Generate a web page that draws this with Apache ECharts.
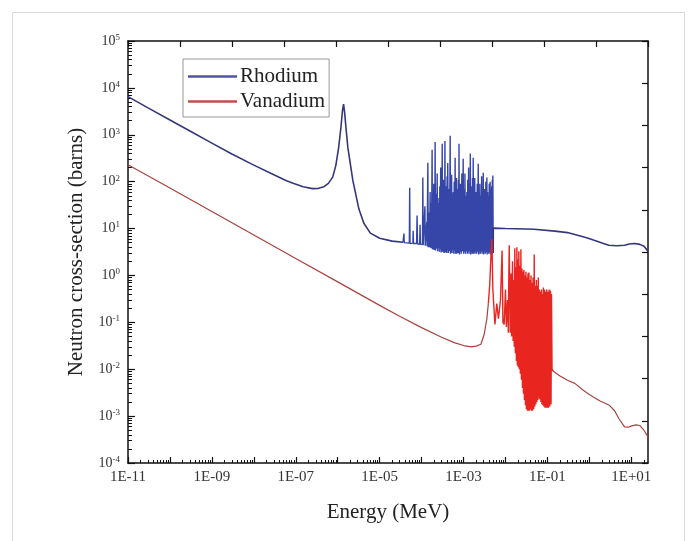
<!DOCTYPE html>
<html>
<head>
<meta charset="utf-8">
<script src="https://cdn.jsdelivr.net/npm/echarts@6/dist/echarts.min.js"></script>
<style>
html, body { margin: 0; padding: 0; background: #fff; }
#chart { width: 697px; height: 541px; }
</style>
</head>
<body>
<div id="chart"></div>
<script>
// tick labels
var xLabelValues = [1e-11, 1e-9, 1e-7, 1e-5, 1e-3, 1e-1, 1e1];
var xTickValues = [1e-11, 1e-10, 1e-9, 1e-8, 1e-7, 1e-6, 1e-5, 1e-4, 1e-3, 1e-2, 1e-1, 1, 1e1];
var yTickValues = [1e-4, 1e-3, 1e-2, 1e-1, 1, 1e1, 1e2, 1e3, 1e4, 1e5];

// Rhodium [energy MeV, barns]
var rhodiumLow = [
    [1e-11, 6500], [3e-11, 3750], [1e-10, 2070], [3e-10, 1200], [1e-9, 665], [3e-9, 390],
    [1e-8, 225], [3e-8, 140], [6e-8, 105], [9e-8, 91], [1.5e-7, 78], [2.5e-7, 71],
    [3.5e-7, 72], [4.7e-7, 78], [6e-7, 92], [7.6e-7, 125], [9e-7, 220], [1.05e-6, 525],
    [1.2e-6, 1500], [1.3e-6, 3300], [1.38e-6, 4500], [1.46e-6, 3000], [1.6e-6, 1200],
    [1.75e-6, 525], [2.3e-6, 105], [3.2e-6, 26], [4.2e-6, 13], [6e-6, 8], [1e-5, 6.2],
    [2e-5, 5.4], [3.6e-5, 5.1]
];
var rhodiumRes = [
    [3.6e-5, 5.1],
    [3.75e-5, 5.0], [3.8e-5, 7.8], [3.85e-5, 5.0],
    [5.1e-5, 4.9], [5.2e-5, 74], [5.3e-5, 4.8],
    [6.2e-5, 4.9], [6.3e-5, 9], [6.4e-5, 4.8],
    [7.6e-5, 4.8], [7.8e-5, 19], [8.0e-5, 4.7],
    [9.0e-5, 4.7], [9.2e-5, 12], [9.4e-5, 4.6],
    [1.05e-4, 4.6], [1.07e-4, 123], [1.09e-4, 4.4],
    [1.18e-4, 4.5], [1.2e-4, 30], [1.22e-4, 4.3],
    [1.3e-4, 4.4], [1.33e-4, 14], [1.35e-4, 4.2],
    [1.38e-4, 4.2], [1.41e-4, 253], [1.44e-4, 4.0],
    [1.5e-4, 4.2], [1.53e-4, 22], [1.55e-4, 4.0],
    [1.57e-4, 4.3], [1.6e-4, 60], [1.63e-4, 3.9],
    [1.67e-4, 4.1], [1.7e-4, 35], [1.72e-4, 3.8],
    [1.74e-4, 4.1], [1.78e-4, 478], [1.82e-4, 3.6],
    [1.86e-4, 4.0], [1.89e-4, 25], [1.9e-4, 3.7],
    [1.92e-4, 4.0], [1.95e-4, 90], [1.99e-4, 3.5],
    [2.03e-4, 30], [2.06e-4, 3.8],
    [2.10e-4, 705], [2.15e-4, 3.4],
    [2.22e-4, 55], [2.28e-4, 3.7],
    [2.35e-4, 150], [2.42e-4, 3.3],
    [2.48e-4, 35], [2.54e-4, 3.9],
    [2.60e-4, 45], [2.66e-4, 3.2],
    [2.72e-4, 80], [2.78e-4, 3.6],
    [2.85e-4, 200], [2.92e-4, 3.1],
    [2.99e-4, 40], [3.04e-4, 3.5],
    [3.10e-4, 645], [3.16e-4, 3.2],
    [3.22e-4, 70], [3.28e-4, 3.6],
    [3.35e-4, 110], [3.41e-4, 3.0],
    [3.47e-4, 50], [3.53e-4, 3.4],
    [3.60e-4, 740], [3.68e-4, 3.1],
    [3.75e-4, 60], [3.82e-4, 3.5],
    [3.90e-4, 80], [3.97e-4, 3.0],
    [4.05e-4, 130], [4.12e-4, 3.4],
    [4.20e-4, 250], [4.35e-4, 3.0],
    [4.45e-4, 70], [4.62e-4, 3.3],
    [4.80e-4, 950], [4.90e-4, 2.9],
    [5.0e-4, 90], [5.1e-4, 3.3],
    [5.2e-4, 140], [5.33e-4, 3.0],
    [5.45e-4, 55], [5.57e-4, 3.5],
    [5.7e-4, 60], [5.85e-4, 2.9],
    [6.0e-4, 100], [6.15e-4, 3.4],
    [6.3e-4, 324], [6.42e-4, 2.9],
    [6.55e-4, 80], [6.68e-4, 3.3],
    [6.8e-4, 120], [6.92e-4, 2.9],
    [7.05e-4, 70], [7.18e-4, 3.4],
    [7.3e-4, 40], [7.42e-4, 3.0],
    [7.55e-4, 110], [7.67e-4, 3.3],
    [7.8e-4, 645], [7.97e-4, 2.8],
    [8.15e-4, 60], [8.32e-4, 3.2],
    [8.5e-4, 90], [8.8e-4, 2.9],
    [9.1e-4, 150], [9.45e-4, 3.3],
    [9.8e-4, 309], [1.005e-3, 2.9],
    [1.03e-3, 70], [1.055e-3, 3.2],
    [1.08e-3, 150], [1.11e-3, 2.9],
    [1.14e-3, 50], [1.17e-3, 3.3],
    [1.2e-3, 60], [1.23e-3, 2.9],
    [1.26e-3, 110], [1.29e-3, 3.2],
    [1.32e-3, 200], [1.35e-3, 2.9],
    [1.38e-3, 90], [1.415e-3, 3.3],
    [1.45e-3, 398], [1.48e-3, 2.8],
    [1.51e-3, 60], [1.545e-3, 3.2],
    [1.58e-3, 80], [1.61e-3, 2.9],
    [1.64e-3, 120], [1.67e-3, 3.3],
    [1.7e-3, 324], [1.735e-3, 2.9],
    [1.77e-3, 70], [1.81e-3, 3.2],
    [1.85e-3, 120], [1.885e-3, 2.9],
    [1.92e-3, 50], [1.96e-3, 3.3],
    [2.0e-3, 60], [2.06e-3, 2.9],
    [2.12e-3, 90], [2.18e-3, 3.2],
    [2.24e-3, 240], [2.3e-3, 2.8],
    [2.35e-3, 60], [2.4e-3, 3.2],
    [2.45e-3, 90], [2.51e-3, 2.9],
    [2.57e-3, 50], [2.63e-3, 3.3],
    [2.7e-3, 130], [2.76e-3, 2.9],
    [2.82e-3, 70], [2.88e-3, 3.2],
    [2.95e-3, 155], [3.01e-3, 2.8],
    [3.07e-3, 60], [3.13e-3, 3.2],
    [3.2e-3, 70], [3.3e-3, 2.9],
    [3.4e-3, 100], [3.5e-3, 3.1],
    [3.6e-3, 123], [3.67e-3, 2.8],
    [3.75e-3, 60], [3.82e-3, 3.2],
    [3.9e-3, 50], [4.0e-3, 2.9],
    [4.1e-3, 90], [4.2e-3, 3.1],
    [4.3e-3, 100], [4.4e-3, 2.8],
    [4.5e-3, 70], [4.6e-3, 3.2],
    [4.7e-3, 80], [4.78e-3, 2.9],
    [4.85e-3, 110], [4.92e-3, 3.0],
    [5.0e-3, 135], [5.1e-3, 3.0]
];
var rhodiumHigh = [
    [5.1e-3, 3.0], [5.12e-3, 10.2], [1e-2, 10.0], [3e-2, 9.8], [4.8e-2, 9.7], [5.0e-2, 9.2],
    [0.15, 8.8], [0.3, 8.2], [0.55, 7.1], [0.9, 6.3], [1.3, 5.6], [2.0, 4.9], [2.9, 4.4],
    [4.5, 4.3], [6.9, 4.4], [9, 4.7], [12, 4.8], [16, 4.6], [20, 4.2], [25, 3.3]
];

// Vanadium [energy MeV, barns]
var vanadiumLow = [
    [1e-11, 230], [1e-10, 73], [1e-9, 23], [1e-8, 7.3], [1e-7, 2.3], [1e-6, 0.73],
    [1e-5, 0.23], [3e-5, 0.135], [1e-4, 0.077], [3e-4, 0.048], [6e-4, 0.037], [1e-3, 0.032],
    [1.5e-3, 0.030], [2e-3, 0.031], [2.6e-3, 0.034], [3.1e-3, 0.055], [3.6e-3, 0.12], [3.9e-3, 0.25]
];
var vanadiumRes = [
    [3.9e-3, 0.25], [4.2e-3, 0.6], [4.5e-3, 2.5], [4.75e-3, 6.0], [5.0e-3, 0.5], [5.6e-3, 0.09],
    [6.2e-3, 0.25], [6.8e-3, 0.12], [7.6e-3, 0.3], [8.3e-3, 3.4], [8.7e-3, 0.1], [9.3e-3, 0.09],
    [1.0e-2, 0.5], [1.05e-2, 0.08], [1.12e-2, 0.3], [1.17e-2, 0.06], [1.2e-2, 0.9], [1.23e-2, 4.4],
    [1.3e-2, 0.06], [1.36e-2, 1.1], [1.4e-2, 0.05], [1.47e-2, 2.0], [1.52e-2, 0.04], [1.57e-2, 0.8],
    [1.62e-2, 0.03], [1.67e-2, 3.8], [1.72e-2, 0.022], [1.77e-2, 1.5], [1.82e-2, 0.015], [1.87e-2, 4.0],
    [1.92e-2, 0.012], [1.97e-2, 2.2], [2.02e-2, 0.011], [2.08e-2, 3.3], [2.14e-2, 0.01], [2.2e-2, 1.6],
    [2.26e-2, 0.008], [2.33e-2, 3.6], [2.4e-2, 0.006], [2.47e-2, 1.4], [2.54e-2, 0.004], [2.61e-2, 1.2],
    [2.68e-2, 0.003], [2.75e-2, 1.3], [2.83e-2, 0.0022], [2.91e-2, 1.0], [2.99e-2, 0.0017], [3.07e-2, 1.2],
    [3.16e-2, 0.0014], [3.25e-2, 0.9], [3.34e-2, 0.0013], [3.43e-2, 1.1], [3.53e-2, 0.0013], [3.63e-2, 1.15],
    [3.73e-2, 0.0013], [3.84e-2, 0.8], [3.95e-2, 0.0014], [4.06e-2, 1.0], [4.18e-2, 0.0013], [4.3e-2, 0.7],
    [4.42e-2, 0.0013], [4.55e-2, 0.9], [4.7e-2, 0.0014], [4.85e-2, 2.8], [5.0e-2, 0.0016], [5.15e-2, 0.6],
    [5.3e-2, 0.0018], [5.45e-2, 0.8], [5.6e-2, 0.002], [5.75e-2, 0.6], [5.9e-2, 0.0022], [6.05e-2, 0.9],
    [6.2e-2, 0.0024], [6.4e-2, 0.5], [6.6e-2, 0.0023], [6.8e-2, 0.45], [7.0e-2, 0.002], [7.2e-2, 0.5],
    [7.4e-2, 0.0018], [7.6e-2, 0.4], [7.8e-2, 0.0017], [8.0e-2, 0.55], [8.25e-2, 0.0016], [8.5e-2, 0.5],
    [8.75e-2, 0.0015], [9.0e-2, 0.45], [9.3e-2, 0.0015], [9.6e-2, 0.5], [9.9e-2, 0.0015], [0.102, 0.45],
    [0.106, 0.0015], [0.11, 0.5], [0.114, 0.0016], [0.118, 0.48], [0.122, 0.0018], [0.125, 0.4],
    [0.129, 0.01], [0.138, 0.009]
];
var vanadiumHigh = [
    [0.138, 0.009], [0.2, 0.0072], [0.3, 0.0058], [0.45, 0.005], [0.7, 0.0036], [1.0, 0.0029],
    [1.3, 0.0025], [1.8, 0.0021], [2.3, 0.0019], [3.0, 0.0017], [4.0, 0.0013], [5.0, 0.0009],
    [6.9, 0.00059], [8.5, 0.00058], [10.2, 0.00062], [13, 0.00065], [16, 0.00063], [20, 0.0005],
    [25, 0.00036]
];

var xMin = 1e-11, xMax = 25;
var yMin = 1e-4, yMax = 1e5;
var serif = 'Liberation Serif';

// minor log ticks 2..9 in every decade
function minorTicks(lo, hi) {
    var out = [];
    for (var d = lo; d < hi; d *= 10) {
        for (var k = 2; k < 10; k++) {
            var v = k * d;
            if (v <= hi) out.push(v);
        }
    }
    return out;
}

var chart = echarts.init(document.getElementById('chart'));

function line(name, data, color, width) {
    return {
        name: name,
        type: 'line',
        data: data,
        symbol: 'none',
        xAxisIndex: 0,
        yAxisIndex: 0,
        itemStyle: { color: color },
        lineStyle: { color: color, width: width },
        emphasis: { disabled: true },
        animation: false
    };
}

var option = {
    backgroundColor: '#fff',
    animation: false,
    textStyle: { fontFamily: serif },
    graphic: [{
        type: 'rect',
        silent: true,
        z: -10,
        shape: { x: 12.5, y: 12.5, width: 672, height: 560 },
        style: { fill: 'none', stroke: '#d9d9d9', lineWidth: 1 }
    }],
    grid: {
        left: 128, right: 49, top: 41, bottom: 78,
        containLabel: false,
        outerBoundsMode: 'none'
    },
    legend: {
        orient: 'vertical',
        left: 183,
        top: 59,
        data: [
            { name: 'Rhodium', itemStyle: { color: '#4f53a3' } },
            { name: 'Vanadium', itemStyle: { color: '#bf4f4c' } }
        ],
        icon: 'rect',
        itemWidth: 49,
        itemHeight: 2.5,
        itemGap: 4,
        padding: [7, 4, 5, 5],
        borderColor: '#999',
        borderWidth: 1,
        selectedMode: false,
        textStyle: { fontFamily: serif, fontSize: 21, color: '#222', lineHeight: 21, padding: [0, 0, 0, -2] }
    },
    xAxis: [{
        type: 'log',
        min: xMin,
        max: xMax,
        position: 'bottom',
        name: 'Energy (MeV)',
        nameLocation: 'middle',
        nameGap: 39,
        nameTextStyle: { fontFamily: serif, fontSize: 21, color: '#222' },
        axisLine: { lineStyle: { color: '#111', width: 1.5 } },
        axisTick: { inside: true, length: 6, customValues: xTickValues, lineStyle: { color: '#111', width: 1.2 } },
        axisLabel: {
            customValues: xLabelValues,
            margin: 7,
            fontFamily: serif,
            fontSize: 15,
            color: '#333',
            formatter: function (v) {
                var e = Math.round(Math.log10(v));
                var s = Math.abs(e) < 10 ? '0' + Math.abs(e) : '' + Math.abs(e);
                return '1E' + (e < 0 ? '-' : '+') + s;
            }
        },
        splitLine: { show: false }
    }, {
        type: 'value',
        min: 0,
        max: 10,
        interval: 1,
        position: 'top',
        axisLine: { lineStyle: { color: '#111', width: 1.5 } },
        axisTick: { inside: true, length: 6, lineStyle: { color: '#111', width: 1.2 } },
        axisLabel: { show: false },
        splitLine: { show: false }
    }, {
        type: 'log',
        min: xMin,
        max: xMax,
        position: 'bottom',
        axisLine: { show: false },
        axisTick: { inside: true, length: 3, customValues: minorTicks(1e-11, xMax), lineStyle: { color: '#111', width: 1 } },
        axisLabel: { show: false },
        splitLine: { show: false }
    }],
    yAxis: [{
        type: 'log',
        min: yMin,
        max: yMax,
        position: 'left',
        name: 'Neutron cross-section (barns)',
        nameLocation: 'middle',
        nameGap: 41,
        nameTextStyle: { fontFamily: serif, fontSize: 21, color: '#222' },
        axisLine: { lineStyle: { color: '#111', width: 1.5 } },
        axisTick: { inside: true, length: 7, customValues: yTickValues, lineStyle: { color: '#111', width: 1.2 } },
        axisLabel: {
            customValues: yTickValues,
            margin: 8,
            formatter: function (v) {
                var e = Math.round(Math.log10(v));
                return '{b|10}{s|' + e + '}';
            },
            rich: {
                b: { fontFamily: serif, fontSize: 14, color: '#333', lineHeight: 16 },
                s: { fontFamily: serif, fontSize: 9, color: '#333', verticalAlign: 'top', lineHeight: 10 }
            }
        },
        splitLine: { show: false }
    }, {
        type: 'value',
        min: 0,
        max: 10,
        interval: 1,
        position: 'right',
        axisLine: { lineStyle: { color: '#111', width: 1.5 } },
        axisTick: { inside: true, length: 6, lineStyle: { color: '#111', width: 1.2 } },
        axisLabel: { show: false },
        splitLine: { show: false }
    }, {
        type: 'log',
        min: yMin,
        max: yMax,
        position: 'left',
        axisLine: { show: false },
        axisTick: { inside: true, length: 4, customValues: minorTicks(1e-4, yMax), lineStyle: { color: '#111', width: 1 } },
        axisLabel: { show: false },
        splitLine: { show: false }
    }],
    series: [
        line('Rhodium', rhodiumLow, '#35377c', 1.6),
        line('Rhodium', rhodiumRes, '#3546a8', 1.4),
        line('Rhodium', rhodiumHigh, '#35377c', 1.6),
        line('Vanadium', vanadiumLow, '#a8433f', 1.2),
        line('Vanadium', vanadiumRes, '#e8251e', 1.4),
        line('Vanadium', vanadiumHigh, '#a8433f', 1.2)
    ]
};

chart.setOption(option);
</script>
</body>
</html>
